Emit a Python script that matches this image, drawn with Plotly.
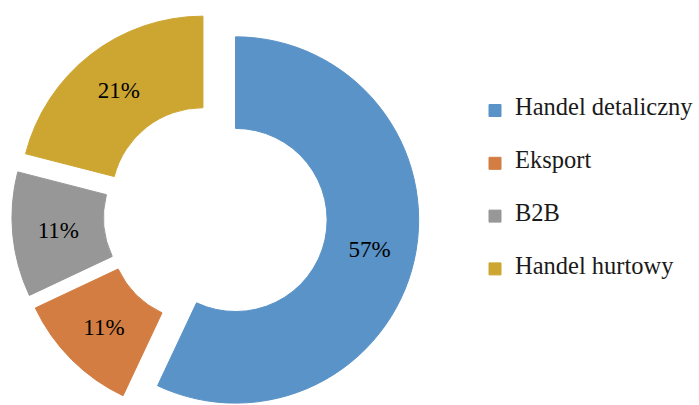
import plotly.graph_objects as go

categories = ["Handel detaliczny", "Eksport", "B2B", "Handel hurtowy"]
shares = [57, 11, 11, 21]
colors = ["#5A93C7", "#D37D42", "#979797", "#CDA632"]

W, H = 699, 425
# pie box in pixels
cx, cy, r, pull = 217.7, 215.5, 185.0, 0.112
half = r * (1 + pull)
dom_x = [(cx - half) / W, (cx + half) / W]
dom_y = [(H - (cy + half)) / H, (H - (cy - half)) / H]

legend_labels = ['<br><span style="font-size:24.5px">%s</span><br> ' % c for c in categories]

fig = go.Figure(go.Pie(
    labels=legend_labels,
    values=shares,
    sort=False,
    direction="clockwise",
    rotation=0,
    hole=0.5,
    pull=[pull] * len(shares),
    marker=dict(colors=colors, line=dict(color=colors, width=1)),
    texttemplate="%{value}%",
    textposition="inside",
    insidetextorientation="horizontal",
    textfont=dict(family="Liberation Serif, Times New Roman, serif", size=23, color="black"),
    domain=dict(x=dom_x, y=dom_y),
    hoverinfo="skip",
))

item_font = (52.8 - 3) / 3.9
legend_top = 109.5 - 5 - (52.8 - 3) / 2 - 0.5
fig.update_layout(
    width=W, height=H,
    margin=dict(l=0, r=0, t=0, b=0),
    paper_bgcolor="white",
    plot_bgcolor="white",
    showlegend=True,
    legend=dict(
        x=480 / W, xanchor="left",
        y=1 - legend_top / H, yanchor="top",
        font=dict(family="Liberation Serif, Times New Roman, serif", size=item_font, color="#1a1a1a"),
        bgcolor="rgba(0,0,0,0)",
    ),
)

fig.write_html("out.html", post_script="document.body.style.overflow='hidden';document.documentElement.style.overflow='hidden';")
